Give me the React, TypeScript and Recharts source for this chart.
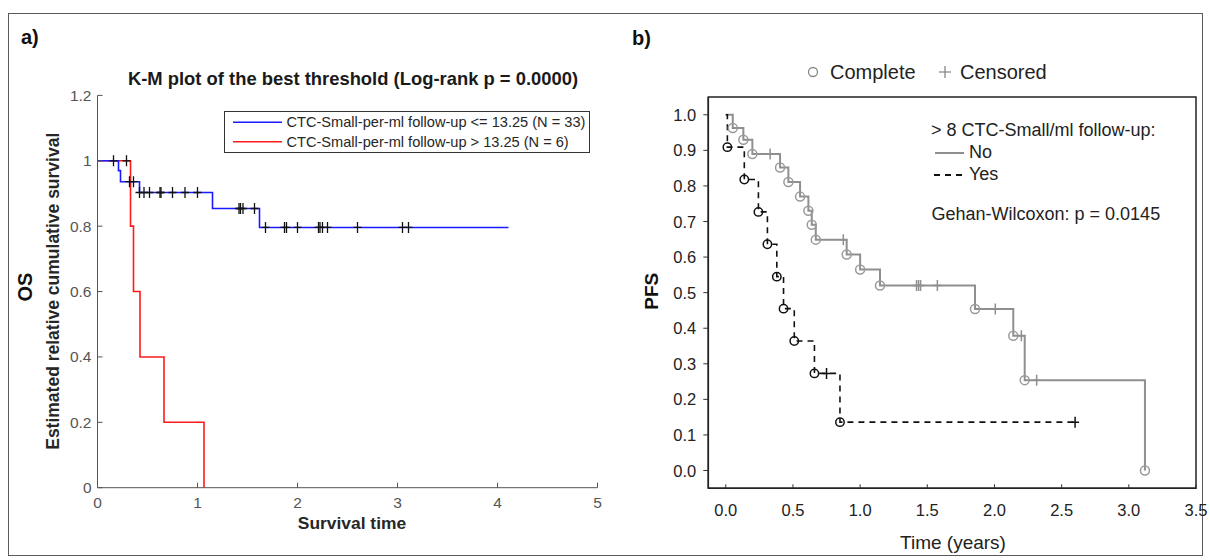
import React from 'react';
import { ComposedChart, Line, Scatter, XAxis, YAxis, ReferenceArea } from 'recharts';

// ---------- Panel a (OS) ----------
const osXTicks = [0, 1, 2, 3, 4, 5];
const osYTicks = [0, 0.2, 0.4, 0.6, 0.8, 1, 1.2];
const osBlueTimes = [0, 0.21, 0.23, 0.42, 1.15, 1.62, 4.11];
const osBlueSurv = [1, 0.97, 0.936, 0.903, 0.854, 0.796, 0.796];
const osRedTimes = [0, 0.33, 0.36, 0.425, 0.665, 1.065];
const osRedSurv = [1, 0.8, 0.6, 0.4, 0.2, 0];
const osCensorTimes = [0.16, 0.29, 0.32, 0.36, 0.42, 0.465, 0.52, 0.625, 0.635, 0.75, 0.875, 1.0, 1.415, 1.43, 1.455, 1.57, 1.68, 1.87, 1.89, 2.0, 2.21, 2.225, 2.25, 2.3, 2.6, 3.05, 3.11];
const osCensorSurv = [1, 1, 0.936, 0.936, 0.903, 0.903, 0.903, 0.903, 0.903, 0.903, 0.903, 0.903, 0.854, 0.854, 0.854, 0.854, 0.796, 0.796, 0.796, 0.796, 0.796, 0.796, 0.796, 0.796, 0.796, 0.796, 0.796];
const osLegendLabels = ['CTC-Small-per-ml follow-up <= 13.25 (N = 33)', 'CTC-Small-per-ml follow-up > 13.25 (N = 6)'];

// ---------- Panel b (PFS) ----------
const pfsXTicks = [0, 0.5, 1, 1.5, 2, 2.5, 3, 3.5];
const pfsYTicks = [0, 0.1, 0.2, 0.3, 0.4, 0.5, 0.6, 0.7, 0.8, 0.9, 1.0];
const pfsNoTimes = [0, 0.052, 0.131, 0.198, 0.404, 0.466, 0.553, 0.615, 0.64, 0.67, 0.9, 1.0, 1.148, 1.855, 2.14, 2.225, 3.12];
const pfsNoSurv = [1, 0.963, 0.93, 0.89, 0.852, 0.811, 0.77, 0.73, 0.691, 0.649, 0.607, 0.565, 0.52, 0.454, 0.379, 0.254, 0];
const pfsNoCensorTimes = [0.33, 0.875, 1.42, 1.435, 1.45, 1.575, 2.006, 2.2, 2.314];
const pfsNoCensorSurv = [0.89, 0.649, 0.52, 0.52, 0.52, 0.52, 0.454, 0.379, 0.254];
const pfsYesTimes = [0, 0.012, 0.138, 0.243, 0.31, 0.38, 0.43, 0.51, 0.66, 0.85, 2.6];
const pfsYesSurv = [1, 0.909, 0.818, 0.727, 0.636, 0.545, 0.455, 0.364, 0.273, 0.136, 0.136];
const pfsYesCensorTimes = [0.75, 2.6];
const pfsYesCensorSurv = [0.273, 0.136];

const toPts = (ts: number[], ss: number[]) => ts.map((t, i) => ({ t, s: ss[i] }));

const osBlue = toPts(osBlueTimes, osBlueSurv);
const osRed = toPts(osRedTimes, osRedSurv);
const osCensor = toPts(osCensorTimes, osCensorSurv);
const pfsNo = toPts(pfsNoTimes, pfsNoSurv);
const pfsNoEvents = pfsNo.slice(1);
const pfsNoCensor = toPts(pfsNoCensorTimes, pfsNoCensorSurv);
const pfsYes = toPts(pfsYesTimes, pfsYesSurv);
const pfsYesEvents = pfsYes.slice(1, pfsYes.length - 1);
const pfsYesCensor = toPts(pfsYesCensorTimes, pfsYesCensorSurv);

const FONT = '"Liberation Sans", Arial, Helvetica, sans-serif';
const GRAY = '#8f8f8f';
const BLUE = '#1a1aff';
const RED = '#ff1a1a';

const plusShape = (color: string, h: number, w: number, sw: number) => (props: any) => {
  const { cx, cy } = props;
  return (
    <g>
      <line x1={cx} x2={cx} y1={cy - h / 2} y2={cy + h / 2} stroke={color} strokeWidth={sw} />
      <line x1={cx - w / 2} x2={cx + w / 2} y1={cy} y2={cy} stroke={color} strokeWidth={sw} />
    </g>
  );
};

const circleShape = (color: string, r: number) => (props: any) => {
  const { cx, cy } = props;
  return <circle cx={cx} cy={cy} r={r} fill="none" stroke={color} strokeWidth={1.5} />;
};

const OsXTick = (props: any) => {
  const { x, y, payload } = props;
  return (
    <g>
      <line x1={x} x2={x} y1={y} y2={y - 5} stroke="#555" strokeWidth={1} />
      <text x={x} y={y + 15} textAnchor="middle" dominantBaseline="central" fontSize={15.5} fill="#555" fontFamily={FONT}>
        {String(payload.value)}
      </text>
    </g>
  );
};

const OsYTick = (props: any) => {
  const { x, y, payload } = props;
  return (
    <g>
      <line x1={x} x2={x + 5} y1={y} y2={y} stroke="#555" strokeWidth={1} />
      <text x={x - 6} y={y} textAnchor="end" dominantBaseline="central" fontSize={15.5} fill="#555" fontFamily={FONT}>
        {String(payload.value)}
      </text>
    </g>
  );
};

const PfsXTick = (props: any) => {
  const { x, y, payload } = props;
  return (
    <g>
      <line x1={x} x2={x} y1={y} y2={y - 4} stroke="#333" strokeWidth={1} />
      <text x={x} y={y + 22} textAnchor="middle" dominantBaseline="central" fontSize={16.5} fill="#222" fontFamily={FONT}>
        {Number(payload.value).toFixed(1)}
      </text>
    </g>
  );
};

const PfsYTick = (props: any) => {
  const { x, y, payload } = props;
  return (
    <g>
      <line x1={x} x2={x - 5} y1={y} y2={y} stroke="#333" strokeWidth={1} />
      <text x={x - 12} y={y} textAnchor="end" dominantBaseline="central" fontSize={16.5} fill="#222" fontFamily={FONT}>
        {Number(payload.value).toFixed(1)}
      </text>
    </g>
  );
};

const T = (p: {
  x: number; y: number; text: string; size: number; bold?: boolean; anchor?: 'left' | 'center'; rotate?: boolean; color?: string;
}) => {
  const w = 700;
  const h = p.size * 1.4;
  const base: React.CSSProperties = {
    position: 'absolute',
    height: h,
    lineHeight: `${h}px`,
    fontSize: p.size,
    fontWeight: p.bold ? 'bold' : 'normal',
    fontFamily: FONT,
    color: p.color || '#111',
    whiteSpace: 'nowrap',
  };
  if (p.rotate) {
    return (
      <div style={{ ...base, width: w, left: p.x - w / 2, top: p.y - h / 2, textAlign: 'center', transform: 'rotate(-90deg)', transformOrigin: 'center center' }}>
        {p.text}
      </div>
    );
  }
  if (p.anchor === 'left') {
    return <div style={{ ...base, left: p.x, top: p.y - h / 2 }}>{p.text}</div>;
  }
  return <div style={{ ...base, width: w, left: p.x - w / 2, top: p.y - h / 2, textAlign: 'center' }}>{p.text}</div>;
};

export default function App() {
  return (
    <div style={{ position: 'relative', width: 1210, height: 560, background: '#fff', overflow: 'hidden' }}>
      <style>{`body{margin:0;}`}</style>
      {/* outer frame */}
      <div style={{ position: 'absolute', left: 8, top: 13, width: 1195, height: 543, border: '1.5px solid #5a5a5a', boxSizing: 'border-box' }} />

      {/* Panel a chart */}
      <div style={{ position: 'absolute', left: 0, top: 0 }}>
        <ComposedChart width={610} height={560} margin={{ left: 96.5, right: 12.5, top: 95.4, bottom: 71.3 }}>
          <XAxis dataKey="t" type="number" domain={[0, 5]} ticks={osXTicks} interval={0} height={1}
            tickSize={0} tickMargin={0} tickLine={false} tick={<OsXTick />} axisLine={{ stroke: '#555', strokeWidth: 1 }} allowDataOverflow />
          <YAxis dataKey="s" type="number" domain={[0, 1.2]} ticks={osYTicks} interval={0} width={1}
            tickSize={0} tickMargin={0} tickLine={false} tick={<OsYTick />} axisLine={{ stroke: '#555', strokeWidth: 1 }} allowDataOverflow />
          <Line data={osRed} dataKey="s" type="stepAfter" stroke={RED} strokeWidth={1.6} dot={false} activeDot={false} isAnimationActive={false} />
          <Line data={osBlue} dataKey="s" type="stepAfter" stroke={BLUE} strokeWidth={1.6} dot={false} activeDot={false} isAnimationActive={false} />
          <Scatter data={osCensor} dataKey="s" shape={plusShape('#111', 11, 8, 1.3)} isAnimationActive={false} />
        </ComposedChart>
      </div>

      {/* Panel b chart */}
      <div style={{ position: 'absolute', left: 610, top: 0 }}>
        <ComposedChart width={600} height={560} margin={{ left: 97.3, right: 14, top: 97, bottom: 70.7 }}>
          <XAxis dataKey="t" type="number" domain={[-0.13, 3.5]} ticks={pfsXTicks} interval={0} height={1}
            tickSize={0} tickMargin={0} tickLine={false} tick={<PfsXTick />} axisLine={{ stroke: '#222', strokeWidth: 1.5 }} allowDataOverflow />
          <YAxis dataKey="s" type="number" domain={[-0.05, 1.05]} ticks={pfsYTicks} interval={0} width={1}
            tickSize={0} tickMargin={0} tickLine={false} tick={<PfsYTick />} axisLine={{ stroke: '#222', strokeWidth: 1.5 }} allowDataOverflow />
          <ReferenceArea x1={-0.13} x2={3.5} y1={-0.05} y2={1.05} fill="none" fillOpacity={0} stroke="#222" strokeWidth={1.5} ifOverflow="visible" />
          <Line data={pfsNo} dataKey="s" type="stepAfter" stroke={GRAY} strokeWidth={2} dot={false} activeDot={false} isAnimationActive={false} />
          <Line data={pfsYes} dataKey="s" type="stepAfter" stroke="#111" strokeWidth={1.6} strokeDasharray="6 5" dot={false} activeDot={false} isAnimationActive={false} />
          <Scatter data={pfsNoEvents} dataKey="s" shape={circleShape('#9a9a9a', 4.5)} isAnimationActive={false} />
          <Scatter data={pfsNoCensor} dataKey="s" shape={plusShape(GRAY, 11, 8, 1.5)} isAnimationActive={false} />
          <Scatter data={pfsYesEvents} dataKey="s" shape={circleShape('#111', 4.2)} isAnimationActive={false} />
          <Scatter data={pfsYesCensor} dataKey="s" shape={plusShape('#111', 11, 8, 1.5)} isAnimationActive={false} />
        </ComposedChart>
      </div>

      {/* Panel a texts */}
      <T x={21} y={37} text="a)" size={20} bold anchor="left" />
      <T x={353} y={79} text="K-M plot of the best threshold (Log-rank p = 0.0000)" size={18.4} bold color="#1a1a1a" />
      <T x={53} y={291} text="Estimated relative cumulative survival" size={17.5} bold rotate color="#262626" />
      <T x={25} y={287} text="OS" size={20} bold rotate />
      <T x={352} y={523} text="Survival time" size={17.4} bold color="#262626" />
      {/* Panel a legend */}
      <div style={{ position: 'absolute', left: 224, top: 111, width: 366, height: 42, border: '1px solid #333', boxSizing: 'border-box', background: '#fff' }} />
      <svg style={{ position: 'absolute', left: 230, top: 115 }} width={56} height={34}>
        <line x1={3} x2={52} y1={7.3} y2={7.3} stroke={BLUE} strokeWidth={1.6} />
        <line x1={3} x2={52} y1={26.7} y2={26.7} stroke={RED} strokeWidth={1.6} />
      </svg>
      <T x={286.5} y={122.5} text={osLegendLabels[0]} size={14.6} anchor="left" color="#262626" />
      <T x={286.5} y={142} text={osLegendLabels[1]} size={14.6} anchor="left" color="#262626" />

      {/* Panel b texts */}
      <T x={632} y={38} text="b)" size={20} bold anchor="left" />
      <svg style={{ position: 'absolute', left: 805, top: 64 }} width={16} height={16}>
        <circle cx={8} cy={8} r={4.5} fill="none" stroke="#888" strokeWidth={1.3} />
      </svg>
      <T x={830} y={72} text="Complete" size={20} anchor="left" color="#222" />
      <svg style={{ position: 'absolute', left: 937, top: 64 }} width={16} height={16}>
        <line x1={8} x2={8} y1={2} y2={14} stroke="#888" strokeWidth={1.3} />
        <line x1={2} x2={14} y1={8} y2={8} stroke="#888" strokeWidth={1.3} />
      </svg>
      <T x={960} y={72} text="Censored" size={20} anchor="left" color="#222" />
      <T x={931} y={131} text="> 8 CTC-Small/ml follow-up:" size={18} anchor="left" color="#222" />
      <svg style={{ position: 'absolute', left: 930, top: 145 }} width={40} height={40}>
        <line x1={5} x2={34} y1={8} y2={8} stroke={GRAY} strokeWidth={2} />
        <line x1={4} x2={35} y1={30} y2={30} stroke="#111" strokeWidth={2} strokeDasharray="6 5" />
      </svg>
      <T x={969} y={153} text="No" size={18} anchor="left" color="#222" />
      <T x={969} y={175} text="Yes" size={18} anchor="left" color="#222" />
      <T x={931.5} y={215} text="Gehan-Wilcoxon: p = 0.0145" size={18} anchor="left" color="#222" />
      <T x={652} y={291} text="PFS" size={19} bold rotate />
      <T x={953} y={543} text="Time (years)" size={19} color="#222" />
    </div>
  );
}
